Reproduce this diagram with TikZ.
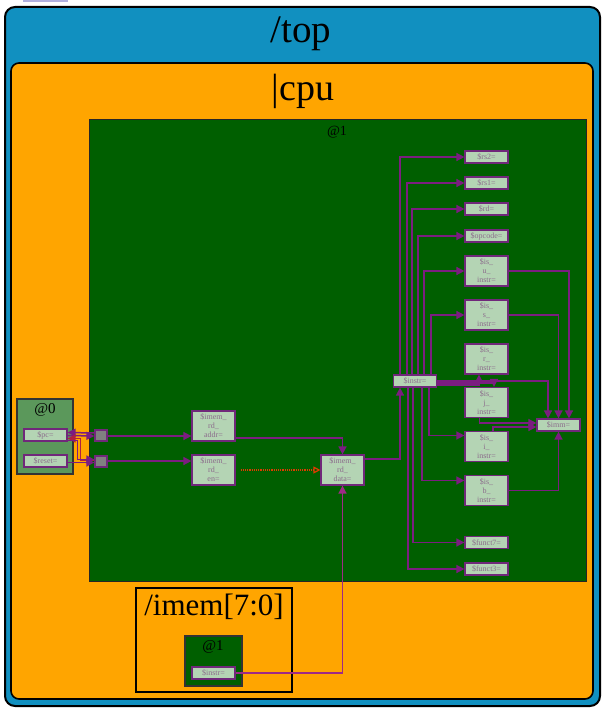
\documentclass[tikz,border=0pt]{standalone}
\usepackage{fontspec}
\setmainfont{Liberation Serif}
\usetikzlibrary{arrows.meta,calc}
\definecolor{topblue}{HTML}{1190C0}
\definecolor{cpuorange}{HTML}{FFA500}
\definecolor{dkgreen}{HTML}{005F00}
\definecolor{midgreen}{HTML}{5B985B}
\definecolor{sigfill}{HTML}{B4D4B4}
\definecolor{sigborder}{HTML}{70287A}
\definecolor{sigtext}{HTML}{8C6C8C}
\definecolor{wirec}{HTML}{7B1D80}
\definecolor{wirec2}{HTML}{9E2A86}
\definecolor{wirered}{HTML}{B02040}
\definecolor{dotred}{HTML}{E03A00}
\definecolor{lav}{HTML}{B0B0E0}
\definecolor{sqgray}{HTML}{808080}
\begin{document}
\begin{tikzpicture}[x=1pt,y=-1pt,
  sig/.style={draw=sigborder,fill=sigfill,line width=1.2pt,inner sep=0pt,text=sigtext,
    font=\fontsize{8}{9}\selectfont,align=center,minimum width=43pt,minimum height=12pt},
  sig3/.style={sig,minimum height=30pt},
  sqbox/.style={draw=sigborder,fill=sqgray,line width=1.2pt,inner sep=0pt,minimum width=12pt,minimum height=11pt},
  wire/.style={draw=wirec,line width=1.5pt,-{Triangle[length=8pt,width=8pt]}},
  dotw/.style={draw=dotred,line width=1.2pt,densely dotted,-{Triangle[open,length=7pt,width=7pt]}},
  titletext/.style={inner sep=0pt,text=black}
]
\useasboundingbox (0,0) rectangle (606,711);
\fill[white] (0,0) rectangle (606,711);
\fill[lav] (23,0) rectangle (68,2.5);
% containers
\draw[line width=2pt,fill=topblue,rounded corners=10pt] (5,7) rectangle (600,706);
\draw[line width=1.6pt,fill=cpuorange,rounded corners=8pt] (11,63) rectangle (593,699);
\draw[line width=1pt,draw=black!85,fill=dkgreen] (89,120) rectangle (586,581);
\draw[line width=1.2pt,draw=black!80,fill=midgreen] (17,399) rectangle (73,474);
\draw[line width=1.5pt,draw=black] (136,588) rectangle (292,692);
\draw[line width=1.2pt,draw=black!80,fill=dkgreen] (185,636) rectangle (242,686);
% titles
\node[titletext,font=\fontsize{39}{42}\selectfont] (toptitle) at (301,34) {/top};
\node[titletext,font=\fontsize{38}{42}\selectfont] (cputitle) at (303,91) {|cpu};
\node[titletext,font=\fontsize{14}{16}\selectfont] (at1title) at (337,132) {@1};
\node[titletext,font=\fontsize{15}{17}\selectfont] (at0title) at (45,410) {@0};
\node[titletext,font=\fontsize{31}{34}\selectfont] (imemtitle) at (214,607) {/imem[7:0]};
\node[titletext,font=\fontsize{15}{17}\selectfont] (imat1title) at (213,647) {@1};
% signals
\node[sig] (pc) at (45.5,435) {\$pc=};
\node[sig] (reset) at (45.5,461) {\$reset=};
\node[sqbox] (sq1) at (101,435.5) {};
\node[sqbox] (sq2) at (101,461.5) {};
\node[sig3] (addr) at (213.5,426) {\$imem\_\\rd\_\\addr=};
\node[sig3] (en) at (213.5,470) {\$imem\_\\rd\_\\en=};
\node[sig3] (data) at (342.5,470) {\$imem\_\\rd\_\\data=};
\node[sig] (instr) at (415,381) {\$instr=};
\node[sig] (rs2) at (486.5,157) {\$rs2=};
\node[sig] (rs1) at (486.5,183) {\$rs1=};
\node[sig] (rd) at (486.5,209) {\$rd=};
\node[sig] (opcode) at (486.5,236) {\$opcode=};
\node[sig3] (u) at (486.5,271) {\$is\_\\u\_\\instr=};
\node[sig3] (s) at (486.5,315) {\$is\_\\s\_\\instr=};
\node[sig3] (r) at (486.5,359) {\$is\_\\r\_\\instr=};
\node[sig3] (j) at (486.5,402.5) {\$is\_\\j\_\\instr=};
\node[sig3] (i) at (486.5,446.5) {\$is\_\\i\_\\instr=};
\node[sig3] (b) at (486.5,490.5) {\$is\_\\b\_\\instr=};
\node[sig] (funct7) at (486.5,542.5) {\$funct7=};
\node[sig] (funct3) at (486.5,569) {\$funct3=};
\node[sig] (imm) at (558.5,425) {\$imm=};
\node[sig] (iminstr) at (213.5,673) {\$instr=};
% @0 wires
\draw[wire] ($(sq1.west)+(0,-2.5)$) -- ($(pc.east)+(0,-2.5)$);
\draw[wire] ($(pc.east)+(0,0.5)$) -- ($(sq1.west)+(0,0.5)$);
\draw[wire,draw=wirered] ($(sq2.west)+(0,-1.5)$) -- ++(-14,0) |- ($(pc.east)+(0,3.5)$);
\draw[wire] ($(pc.east)+(0,5.5)$) -- ++(10,0) |- ($(sq2.west)+(0,-2)$);
\draw[wire] ($(reset.east)+(0,1.5)$) -- ($(sq2.west)+(0,1)$);
% middle wires
\draw[wire] ($(sq1.east)+(0,0.5)$) -- ($(sq1.east -| addr.west)+(0,0.5)$);
\draw[wire] ($(sq2.east)+(0,-0.5)$) -- ($(sq2.east -| en.west)+(0,-0.5)$);
\draw[wire] ($(addr.east)+(0,12)$) -| (data.north);
\draw[dotw] ($(en.east)+(5,0)$) -- (data.west);
\draw[wire,draw=wirec2] (iminstr.east) -| (data.south);
\draw[wire] ($(data.east)+(0,-11)$) -| ($(instr.south)+(-15,0)$);
% instr fan-out upward
\draw[wire] ($(instr.north)+(-15,0)$) |- (rs2.west);
\draw[wire] ($(instr.north)+(-8,0)$) |- (rs1.west);
\draw[wire] ($(instr.north)+(-3,0)$) |- (rd.west);
\draw[wire] ($(instr.north)+(3,0)$) |- (opcode.west);
\draw[wire] ($(instr.north)+(9,0)$) |- (u.west);
\draw[wire] ($(instr.north)+(16,0)$) |- (s.west);
% instr fan-out right
\draw[wire] ($(instr.east)+(0,4)$) -| ($(r.south)+(-7.5,0)$);
\draw[wire] ($(instr.east)+(0,2)$) -| ($(j.north)+(7.5,0)$);
\draw[wire] (instr.east) -| ($(imm.north)+(-10.5,0)$);
% instr fan-out downward
\draw[wire] ($(instr.south)+(14,0)$) |- ($(i.west)+(0,-11)$);
\draw[wire] ($(instr.south)+(7,0)$) |- ($(b.west)+(0,-10)$);
\draw[wire] ($(instr.south)+(-2,0)$) |- (funct7.west);
\draw[wire] ($(instr.south)+(-7,0)$) |- (funct3.west);
% into imm
\draw[wire] (s.east) -| (imm.north);
\draw[wire] (u.east) -| ($(imm.north)+(10.5,0)$);
\draw[wire] (b.east) -| (imm.south);
\draw[wire] ($(j.south)+(-7,0)$) |- ($(imm.west)+(0,-2)$);
\draw[wire] ($(i.north)+(6.5,0)$) |- ($(imm.west)+(0,2)$);
\end{tikzpicture}
\end{document}
